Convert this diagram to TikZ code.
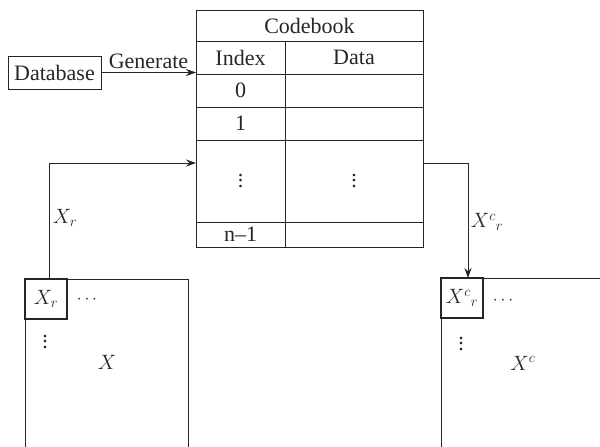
\documentclass[tikz,border=0pt]{standalone}
\usepackage{fontspec}
\setmainfont{Liberation Serif}
\usetikzlibrary{arrows.meta}
\definecolor{ink}{HTML}{262626}
\newcommand{\hdotsmall}{{\fontsize{16}{16}\selectfont$\cdots$}}
\newcommand{\vdotsmall}{\vbox{\baselineskip=5.5pt\lineskiplimit=-10pt\hbox{.}\hbox{.}\hbox{.}}}
\begin{document}
\begin{tikzpicture}[x=1pt,y=-1pt,
  font=\fontsize{22}{26}\selectfont,
  line width=0.8pt,
  cell/.style={draw=ink, line width=0.8pt, anchor=north west, inner sep=0pt, outer sep=0pt, text=ink},
  smallbox/.style={draw=ink, line width=1.3pt, anchor=north west, inner sep=0pt, outer sep=0pt, minimum width=42, minimum height=40, text=ink},
  lbl/.style={text=ink, inner sep=0pt},
  arr/.style={-{Stealth[length=10pt,width=7pt]}, draw=ink, line width=0.8pt}]
\useasboundingbox (0,0) rectangle (600,447);
% codebook table
\node[cell, minimum width=227, minimum height=31] (title) at (196,10) {Codebook};
\node[cell, minimum width=89, minimum height=33] (hidx) at (196,41) {Index};
\node[cell, minimum width=138, minimum height=33] (hdat) at (285,41) {Data};
\node[cell, minimum width=89, minimum height=33] (i0) at (196,74) {0};
\node[cell, minimum width=138, minimum height=33] (d0) at (285,74) {};
\node[cell, minimum width=89, minimum height=33] (i1) at (196,107) {1};
\node[cell, minimum width=138, minimum height=33] (d1) at (285,107) {};
\node[cell, minimum width=89, minimum height=82] (idots) at (196,140) {\vdotsmall};
\node[cell, minimum width=138, minimum height=82] (ddots) at (285,140) {\vdotsmall};
\node[cell, minimum width=89, minimum height=25] (in) at (196,222) {n–1};
\node[cell, minimum width=138, minimum height=25] (dn) at (285,222) {};
% database
\node[cell, minimum width=93, minimum height=33] (db) at (8,56) {Database};
\draw[arr] (db.east) -- (db.east -| hidx.west) node[lbl, midway, above=3pt] {Generate};
% left big matrix
\draw[ink] (25,447) -- (25,279) -- (188,279) -- (188,447);
\node[smallbox] (xr) at (25,279) {$X_r$};
\node[lbl] (hdl) at (87,300) {\hdotsmall};
\node[lbl] (vdl) at (45,342) {\vdotsmall};
\node[lbl] (xl) at (107,362) {$X$};
% right big matrix
\draw[ink] (441,447) -- (441,278) -- (600,278);
\node[smallbox] (xrc) at (441,278) {$X^{c}{}_{r}$};
\node[lbl] (hdr) at (503,301) {\hdotsmall};
\node[lbl] (vdr) at (461,344) {\vdotsmall};
\node[lbl] (xcr) at (523,363) {$X^{c}$};
% connectors
\coordinate (lin) at (196,163);
\coordinate (rout) at (423,163);
\draw[arr] ([xshift=3pt]xr.north) |- (lin);
\node[lbl] (lxr) at (65,218) {$X_r$};
\draw[arr] (rout) -| ([xshift=6pt]xrc.north);
\node[lbl] (lxrc) at (487,222) {$X^{c}{}_{r}$};
\end{tikzpicture}
\end{document}
